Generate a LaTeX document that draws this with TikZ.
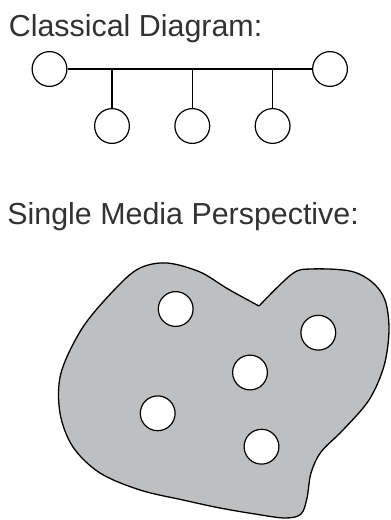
\documentclass[tikz,border=0pt]{standalone}
\usepackage{fontspec}
\setmainfont{Liberation Sans}
\usepackage{tikz}
\usetikzlibrary{positioning}
\definecolor{mediagray}{RGB}{190,191,193}
\definecolor{inkgray}{RGB}{50,50,50}

\begin{document}
\begin{tikzpicture}[
  x=0.5pt, y=-0.5pt,
  host/.style={draw, circle, minimum size=17.4pt, inner sep=0pt,
               line width=0.6pt, fill=white},
  wire/.style={line width=0.75pt},
  heading/.style={anchor=base west, inner sep=0pt, text=inkgray,
                  font=\fontsize{15.2pt}{18pt}\selectfont}
]
\useasboundingbox (0,0) rectangle (391,520);
\node[heading] (title1) at (8.5,36) {Classical Diagram:};
\node[host] (hl) at (49.5,69) {};
\node[host] (hr) at (330,69) {};
\node[host] (b1) at (112,126) {};
\node[host] (b2) at (192.3,126) {};
\node[host] (b3) at (272.6,126) {};
\draw[wire] (hl) -- (hr);
\draw[wire] (b1) -- (b1 |- hl);
\draw[wire] (b2) -- (b2 |- hl);
\draw[wire] (b3) -- (b3 |- hl);
\node[heading] (title2) at (7,224) {Single Media Perspective:};
\draw[fill=mediagray, line width=0.65pt, line join=miter]
  plot[smooth, tension=0.55] coordinates {
    (259,306) (228,289) (200,272) (167,263) (140,268) (117,287)
    (83,327) (61,373) (60,413) (73,447) (100,473) (140,490)
    (183,500) (220,508) (255,514) (285,518) (301,514) (307,498)
    (311,473) (321,452) (343,430) (369,400) (384,366) (389,330)
    (385,300) (372,282) (350,271) (311,269) (292,274) (259,306)};
\node[host] (m1) at (175.7,309) {};
\node[host] (m2) at (318.3,332.7) {};
\node[host] (m3) at (250,372.5) {};
\node[host] (m4) at (157.7,413.3) {};
\node[host] (m5) at (261.5,446.7) {};
\end{tikzpicture}
\end{document}
